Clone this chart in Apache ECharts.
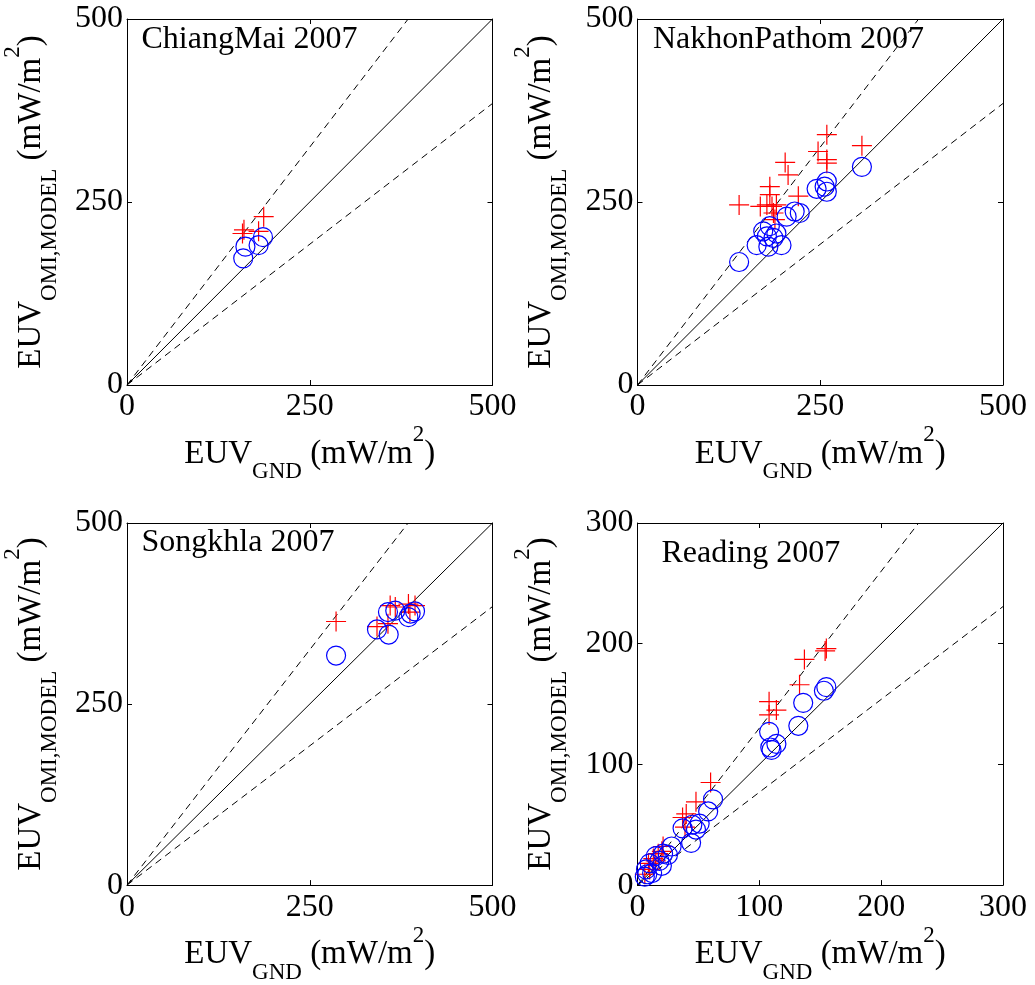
<!DOCTYPE html>
<html>
<head>
<meta charset="utf-8">
<script src="https://cdn.jsdelivr.net/npm/echarts@6/dist/echarts.min.js"></script>
<style>html,body{margin:0;padding:0;background:#fff}#c{width:1035px;height:985px}</style>
</head>
<body>
<div id="c"></div>
<script>
// ---- data (EUV_GND, EUV_OMI/MODEL) in mW/m^2 ----
const panelTitles = ['ChiangMai 2007', 'NakhonPathom 2007', 'Songkhla 2007', 'Reading 2007'];
const axisMax = [500, 500, 500, 300];
const axisInterval = [250, 250, 250, 100];
const ratioBand = 1.3;

const chiangMaiCircles = [[159,173],[162,189],[180,191],[186,202]];
const chiangMaiCrosses = [[160,212],[158,207],[180,210],[187,230]];

const nakhonPathomCircles = [[139,168],[307,298],[259,278],[259,264],[245,268],[256,271],[222,235],[215,237],[204,230],[181,217],[172,210],[190,207],[163,191],[179,189],[197,191],[186,201],[177,203]];
const nakhonPathomCrosses = [[139,246],[259,342],[247,319],[307,327],[259,303],[259,308],[202,304],[206,287],[220,258],[181,271],[181,260],[177,246],[168,244],[184,244],[190,246],[186,235],[188,226]];

const songkhlaCircles = [[286,317],[342,353],[358,346],[357,377],[367,379],[385,370],[394,378],[388,375]];
const songkhlaCrosses = [[286,364],[342,357],[357,361],[360,386],[367,384],[385,388],[394,386],[387,377]];

const readingCircles = [[155,164],[153,161],[136,151],[132,132],[108,127],[114,117],[110,112],[109,114],[62,71],[58,61],[51,51],[44,35],[37,47],[48,46],[45,50],[28,32],[21,26],[15,24],[10,18],[7,13],[6,7],[12,10],[18,20],[20,16],[25,25],[8,9]];
const readingCrosses = [[154,194],[155,196],[137,187],[133,166],[108,152],[114,145],[108,141],[60,85],[48,69],[40,59],[37,56],[39,48],[21,32],[17,26],[13,22],[9,18],[10,13],[6,9],[20,28],[15,20]];

const circleSets = [chiangMaiCircles, nakhonPathomCircles, songkhlaCircles, readingCircles];
const crossSets = [chiangMaiCrosses, nakhonPathomCrosses, songkhlaCrosses, readingCrosses];

// ---- layout ----
const FONT = "'Liberation Serif','Times New Roman',serif";
const grids = [
  {left:127, top:19, width:365.5, height:366},
  {left:637.5, top:19, width:365.5, height:366},
  {left:127, top:523, width:365.5, height:365},
  {left:637.5, top:523, width:365.5, height:365}
];
const titlePos = [[141.5,39.5],[653,40],[141.5,543],[661.5,554]];

const richName = {
  m: {fontSize:33, fontFamily:FONT, color:'#000', lineHeight:60, verticalAlign:'middle'},
  s: {fontSize:23, fontFamily:FONT, color:'#000', lineHeight:23, verticalAlign:'bottom'},
  p: {fontSize:23, fontFamily:FONT, color:'#000', lineHeight:23, verticalAlign:'top'}
};
const xName = '{m|EUV}{s|GND}{m| (mW/m}{p|2}{m|)}';
const yName = '{m|EUV}{s|OMI,MODEL}{m| (mW/m}{p|2}{m|)}';

const blackLine = {show:true, onZero:false, lineStyle:{color:'#000', width:1}};
const tick = {show:true, inside:true, length:5, lineStyle:{color:'#000', width:1}};

const xAxes = [], yAxes = [], series = [], graphics = [];
for (let i = 0; i < 4; i++) {
  const mx = axisMax[i], iv = axisInterval[i];
  const base = {type:'value', min:0, max:mx, interval:iv, gridIndex:i, splitLine:{show:false}, axisLine:blackLine, axisTick:tick};
  xAxes.push(Object.assign({}, base, {
    position:'bottom',
    axisLabel:{fontSize:32, fontFamily:FONT, color:'#000', margin:6},
    name:xName, nameLocation:'middle', nameGap:38,
    nameTextStyle:{rich:richName}
  }));
  xAxes.push(Object.assign({}, base, {position:'top', axisLabel:{show:false}}));
  yAxes.push(Object.assign({}, base, {
    position:'left',
    axisLabel:{fontSize:32, fontFamily:FONT, color:'#000', margin:4},
    name:yName, nameLocation:'middle', nameGap:66,
    nameTextStyle:{rich:richName}
  }));
  yAxes.push(Object.assign({}, base, {position:'right', axisLabel:{show:false}}));

  const xi = 2*i, yi = 2*i;
  const refLine = (pts, dashed) => ({
    type:'line', xAxisIndex:xi, yAxisIndex:yi, data:pts, symbol:'none', silent:true,
    lineStyle:{color:'#000', width:1, type: dashed ? [7,5] : 'solid'}, z:1
  });
  series.push(refLine([[0,0],[mx,mx]], false));
  series.push(refLine([[0,0],[mx/ratioBand,mx]], true));
  series.push(refLine([[0,0],[mx,mx/ratioBand]], true));
  series.push({
    type:'scatter', xAxisIndex:xi, yAxisIndex:yi, data:crossSets[i],
    symbol:'path://M10,0L10,20M0,10L20,10', symbolSize:20,
    itemStyle:{color:'rgba(0,0,0,0)', borderColor:'#ff0000', borderWidth:1.2, opacity:1}, z:2
  });
  series.push({
    type:'scatter', xAxisIndex:xi, yAxisIndex:yi, data:circleSets[i],
    symbol:'circle', symbolSize:19,
    itemStyle:{color:'rgba(0,0,0,0)', borderColor:'#0000ff', borderWidth:1.2, opacity:1}, z:3
  });
  graphics.push({
    type:'text', x:titlePos[i][0], y:titlePos[i][1],
    style:{text:panelTitles[i], fontSize:32, fontFamily:FONT, fill:'#000', textAlign:'left', align:'left', textVerticalAlign:'middle', verticalAlign:'middle'}
  });
}

const chart = echarts.init(document.getElementById('c'), null, {renderer:'canvas'});
chart.setOption({
  animation:false,
  backgroundColor:'#fff',
  grid:grids,
  xAxis:xAxes,
  yAxis:yAxes,
  series:series,
  graphic:graphics
});
</script>
</body>
</html>
